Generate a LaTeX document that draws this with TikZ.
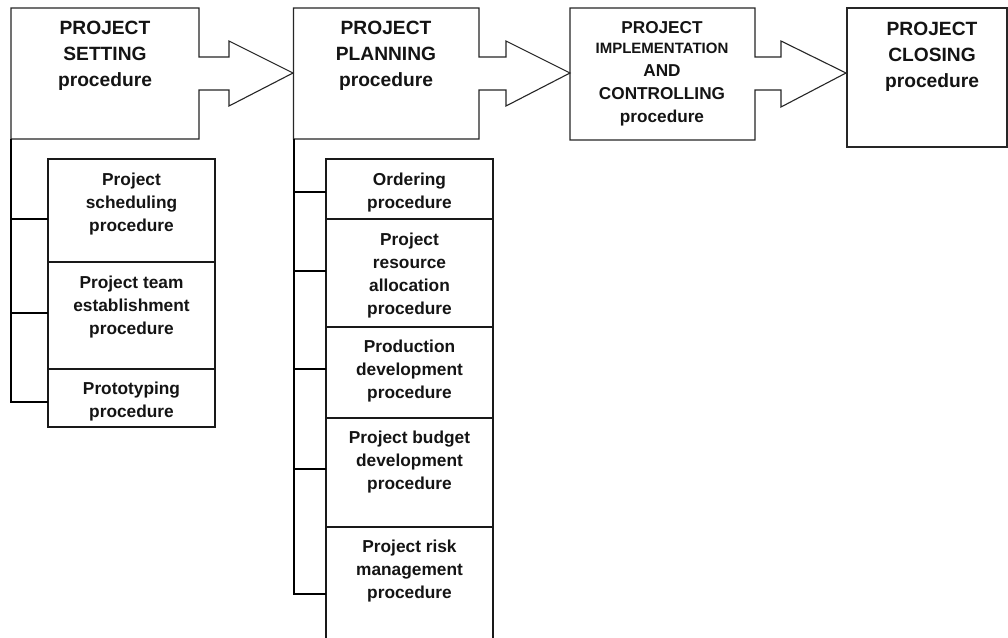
\documentclass[tikz,border=0pt]{standalone}
\usepackage{fontspec}
\setmainfont{Liberation Sans}
% centred lines whose first baseline is the box baseline
\newcommand\linestack[2]{\vtop{\baselineskip=#1\relax\lineskiplimit=-\maxdimen\halign{\hfil##\hfil\cr#2\crcr}}}
\tikzset{
  phase/.style={draw=black!85, line width=1.1pt, line join=miter},
  subbox/.style={draw=black!90, line width=1.5pt, rectangle, inner sep=0pt, outer sep=0pt, anchor=north west},
  tree/.style={draw=black, line width=2pt},
  bigtxt/.style={anchor=base, inner sep=0pt, text=black!92, font=\bfseries\fontsize{19.2}{26}\selectfont},
  midtxt/.style={anchor=base, inner sep=0pt, text=black!92, font=\bfseries\fontsize{17.2}{23}\selectfont},
  smalltxt/.style={anchor=base, inner sep=0pt, text=black!92, font=\bfseries\fontsize{17.3}{23}\selectfont},
}
\begin{document}
\begin{tikzpicture}[x=1pt,y=-1pt]
\clip (0,0) rectangle (1008,637);
\fill[white] (0,0) rectangle (1008,637);

% main phases: box with outgoing block arrow
\coordinate (s1nw) at (11,8);  \coordinate (s1sw) at (11,139);
\draw[phase] (s1nw) -- (199,8) -- (199,57) -- (229,57) -- (229,41) -- (293,73)
  -- (229,106) -- (229,90) -- (199,90) -- (199,139) -- (s1sw) -- cycle;
\coordinate (s2nw) at (293.5,8); \coordinate (s2sw) at (293.5,139);
\draw[phase] (s2nw) -- (479,8) -- (479,57) -- (506,57) -- (506,41) -- (570,73)
  -- (506,106) -- (506,90) -- (479,90) -- (479,139) -- (s2sw) -- cycle;
\coordinate (s3nw) at (570,8);
\draw[phase] (s3nw) -- (755,8) -- (755,57) -- (781,57) -- (781,41) -- (846,73)
  -- (781,107) -- (781,90) -- (755,90) -- (755,140) -- (570,140) -- cycle;
\node[phase, line width=1.4pt, rectangle, inner sep=0pt, outer sep=0pt, anchor=north west,
  minimum width=160pt, minimum height=139pt] (s4) at (847,8) {};

\node[bigtxt] (t1) at (105,34) {\linestack{26pt}{PROJECT\cr SETTING\cr procedure}};
\node[bigtxt] (t2) at (386,34) {\linestack{26pt}{PROJECT\cr PLANNING\cr procedure}};
\node[midtxt] (t3) at (662,33) {\linestack{23pt}{PROJECT\cr\noalign{\vskip-3pt}
  {\fontsize{15}{18}\selectfont IMPLEMENTATION}\cr AND\cr CONTROLLING\cr procedure}};
\node[bigtxt] (t4) at (932,35) {\linestack{26pt}{PROJECT\cr CLOSING\cr procedure}};

% sub-procedures of project setting
\node[subbox, minimum width=167pt, minimum height=103pt] (a1) at (48,159) {};
\node[subbox, minimum width=167pt, minimum height=107pt] (a2) at (48,262) {};
\node[subbox, minimum width=167pt, minimum height=58pt]  (a3) at (48,369) {};
\node[smalltxt] (a1t) at (131.5,185) {\linestack{23pt}{Project\cr scheduling\cr procedure}};
\node[smalltxt] (a2t) at (131.5,288) {\linestack{23pt}{Project team\cr establishment\cr procedure}};
\node[smalltxt] (a3t) at (131.5,394) {\linestack{23pt}{Prototyping\cr procedure}};

\coordinate (ja1) at (a1.west |- 0,219);
\coordinate (ja2) at (a2.west |- 0,313);
\coordinate (ja3) at (a3.west |- 0,402);
\draw[tree] (s1sw) |- (ja3);
\draw[tree] (s1sw |- ja1) -- (ja1);
\draw[tree] (s1sw |- ja2) -- (ja2);

% sub-procedures of project planning
\node[subbox, minimum width=167pt, minimum height=60pt]  (b1) at (326,159) {};
\node[subbox, minimum width=167pt, minimum height=108pt] (b2) at (326,219) {};
\node[subbox, minimum width=167pt, minimum height=91pt]  (b3) at (326,327) {};
\node[subbox, minimum width=167pt, minimum height=109pt] (b4) at (326,418) {};
\node[subbox, minimum width=167pt, minimum height=130pt] (b5) at (326,527) {};
\node[smalltxt] (b1t) at (409.5,185) {\linestack{23pt}{Ordering\cr procedure}};
\node[smalltxt] (b2t) at (409.5,245) {\linestack{23pt}{Project\cr resource\cr allocation\cr procedure}};
\node[smalltxt] (b3t) at (409.5,352) {\linestack{23pt}{Production\cr development\cr procedure}};
\node[smalltxt] (b4t) at (409.5,443) {\linestack{23pt}{Project budget\cr development\cr procedure}};
\node[smalltxt] (b5t) at (409.5,552) {\linestack{23pt}{Project risk\cr management\cr procedure}};

\coordinate (jb1) at (b1.west |- 0,192);
\coordinate (jb2) at (b2.west |- 0,271);
\coordinate (jb3) at (b3.west |- 0,369);
\coordinate (jb4) at (b4.west |- 0,469);
\coordinate (jb5) at (b5.west |- 0,594);
\draw[tree] (s2sw) |- (jb5);
\foreach \j in {jb1,jb2,jb3,jb4} \draw[tree] (s2sw |- \j) -- (\j);
\end{tikzpicture}
\end{document}
